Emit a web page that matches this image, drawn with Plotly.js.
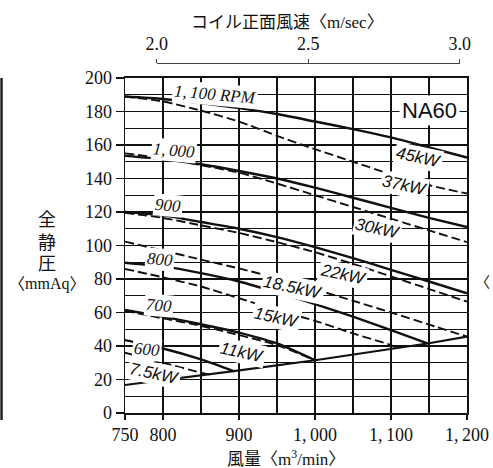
<!DOCTYPE html>
<html>
<head>
<meta charset="utf-8">
<script src="https://cdn.plot.ly/plotly-3.0.1.min.js"></script>
<style>html,body{margin:0;padding:0;background:#fff;}#chart{width:493px;height:468px;}</style>
</head>
<body>
<div id="chart"></div>
<script>
// ---- data ----
const flow = [750, 800, 850, 900, 950, 1000, 1050, 1100, 1150, 1200];
const rpm1100 = [189, 187.5, 185, 182, 178.5, 174, 169.5, 164.5, 158.5, 152.5];
const rpm1000 = [153.5, 151.5, 148.5, 144.5, 140, 134.5, 128.5, 122.5, 116.5, 111];
const rpm900 = [120, 118, 114, 110, 105, 99, 92.5, 85.5, 78.5, 71.5];
const rpm800Flow = [750, 800, 850, 900, 950, 1000, 1050, 1100, 1148];
const rpm800 = [89.7, 87.5, 83.5, 78.5, 72, 65, 57.5, 49.5, 41.5];
const rpm700Flow = [750, 800, 850, 900, 950, 1000];
const rpm700 = [61.5, 57.5, 53, 48, 41.5, 31.5];
const rpm600Flow = [750, 800, 850, 893];
const rpm600 = [43.5, 38.5, 32, 25];

const kw37 = [189, 186, 180.5, 174, 165.5, 157.5, 150, 142.5, 136, 131];
const kw30 = [155, 152, 148, 143.5, 137, 130, 123, 116, 109, 102];
const kw22 = [119.5, 116.5, 112, 107.5, 102, 96, 89, 81.5, 74, 66.5];
const kw185 = [102.3, 97, 91.6, 86.3, 80.5, 73.8, 67, 60, 52.8, 45.6];
const kw15Flow = [750, 800, 850, 900, 950, 1000, 1050, 1100, 1107];
const kw15 = [86, 81, 75.5, 68.5, 61.5, 55, 47.5, 40.5, 38.8];
const kw11Flow = [750, 800, 850, 900, 950, 1000];
const kw11 = [61, 56.5, 52, 46.5, 40.5, 31.5];
const kw75Flow = [750, 800, 850, 862];
const kw75 = [36, 30, 24.1, 22.9];

const limitFlow = [750, 862, 893, 1000, 1148, 1200];
const limitPressure = [16.7, 23, 25, 31.5, 41.5, 45.6];

const xTickVals = [750, 800, 900, 1000, 1100, 1200];
const xTickText = ['750', '800', '900', '1,\u2009000', '1,\u2009100', '1,\u2009200'];
const velocityTicks = [2.0, 2.5, 3.0];
const velocityText = ['2.0', '2.5', '3.0'];

const rpmLabels = [
  {text: '1,\u2009100 RPM', x: 868, y: 189.9},
  {text: '1,\u2009000', x: 814.5, y: 157},
  {text: '900', x: 806.6, y: 123.6},
  {text: '800', x: 796, y: 91.9},
  {text: '700', x: 794.7, y: 63.9},
  {text: '600', x: 779, y: 38.2}
];
const kwLabels = [
  {text: '45kW', x: 1136.8, y: 152.8},
  {text: '37kW', x: 1118.4, y: 136.1},
  {text: '30kW', x: 1081.6, y: 110.4},
  {text: '22kW', x: 1036.8, y: 82.4},
  {text: '18.5kW', x: 971, y: 75.2},
  {text: '15kW', x: 948.7, y: 57.3},
  {text: '11kW', x: 904, y: 36.4},
  {text: '7.5kW', x: 788, y: 23.3}
];

// ---- styling ----
const SERIF = "'Liberation Serif', 'Noto Sans CJK JP', serif";
const SANS = "'Liberation Sans', Arial, sans-serif";
const INK = '#111';
const GRID = '#111';

function solid(x, y) {
  return {x: x, y: y, type: 'scatter', mode: 'lines', hoverinfo: 'skip', showlegend: false,
    line: {color: INK, width: 2.4, shape: 'spline', smoothing: 0.6}};
}
function dashed(x, y) {
  return {x: x, y: y, type: 'scatter', mode: 'lines', hoverinfo: 'skip', showlegend: false,
    line: {color: INK, width: 1.9, dash: '9px,4px', shape: 'spline', smoothing: 0.6}};
}

const traces = [
  solid(flow, rpm1100), solid(flow, rpm1000), solid(flow, rpm900),
  solid(rpm800Flow, rpm800), solid(rpm700Flow, rpm700), solid(rpm600Flow, rpm600),
  dashed(flow, kw37), dashed(flow, kw30), dashed(flow, kw22), dashed(flow, kw185),
  dashed(kw15Flow, kw15), dashed(kw11Flow, kw11), dashed(kw75Flow, kw75),
  {x: limitFlow, y: limitPressure, type: 'scatter', mode: 'lines', hoverinfo: 'skip', showlegend: false,
    line: {color: INK, width: 2.2}},
  // carrier for the coil face velocity scale (draws nothing itself)
  {x: velocityTicks, y: [-1, -1, -1], xaxis: 'x2', yaxis: 'y2', type: 'scatter', mode: 'lines',
    hoverinfo: 'skip', showlegend: false, line: {color: 'rgba(0,0,0,0)', width: 0}}
];

const annotations = [];
rpmLabels.forEach(function (l) {
  annotations.push({x: l.x, y: l.y, xref: 'x', yref: 'y', text: l.text, showarrow: false,
    textangle: 5, bgcolor: '#fff', borderpad: 1, xanchor: 'center', yanchor: 'middle',
    font: {family: SERIF, size: 17, color: INK, style: 'italic'}});
});
kwLabels.forEach(function (l) {
  annotations.push({x: l.x, y: l.y, xref: 'x', yref: 'y', text: l.text, showarrow: false,
    textangle: 12, bgcolor: '#fff', borderpad: 1, xanchor: 'center', yanchor: 'middle',
    font: {family: SANS, size: 17, color: INK, style: 'italic'}});
});
annotations.push({x: 1150, y: 180.3, xref: 'x', yref: 'y', text: 'NA60', showarrow: false,
  bgcolor: '#fff', borderpad: 2, xanchor: 'center', yanchor: 'middle',
  font: {family: SANS, size: 22, color: INK}});
// top axis title
annotations.push({x: 0.4766, y: 1.118, xref: 'paper', yref: 'paper', text: 'コイル正面風速〈m/sec〉',
  showarrow: false, xanchor: 'center', yanchor: 'middle', font: {family: SERIF, size: 17, color: INK}});
// bottom axis title
annotations.push({x: 0.4708, y: -0.129, xref: 'paper', yref: 'paper', text: '風量〈m<sup>3</sup>/min〉',
  showarrow: false, xanchor: 'center', yanchor: 'middle', font: {family: SERIF, size: 17, color: INK}});
// vertical y title
const yTitle = [['全', 0.5544, 18], ['静', 0.4857, 18], ['圧', 0.4269, 18], ['〈mmAq〉', 0.371, 16]];
yTitle.forEach(function (t) {
  annotations.push({x: -0.228, y: t[1], xref: 'paper', yref: 'paper', text: t[0], showarrow: false,
    xanchor: 'center', yanchor: 'middle', font: {family: SERIF, size: t[2], color: INK}});
});
// fragment of the neighbouring chart at the right edge
annotations.push({x: 1.018, y: 0.3725, xref: 'paper', yref: 'paper', text: '〈', showarrow: false,
  xanchor: 'left', yanchor: 'middle', font: {family: SERIF, size: 15, color: INK}});

const layout = {
  width: 493, height: 468,
  margin: {l: 125, r: 26, t: 64, b: 55},
  paper_bgcolor: '#fff', plot_bgcolor: 'rgba(0,0,0,0)',
  showlegend: false,
  xaxis: {
    range: [750, 1200], domain: [0, 1], anchor: 'y',
    tickmode: 'array', tickvals: xTickVals, ticktext: xTickText,
    ticks: 'outside', ticklen: 5, tickwidth: 1.2, tickcolor: INK,
    showgrid: true, gridcolor: GRID, gridwidth: 1.2,
    minor: {tick0: 750, dtick: 50, showgrid: true, gridcolor: GRID, gridwidth: 1.2, ticks: ''},
    showline: true, linecolor: INK, linewidth: 1.5, mirror: true, zeroline: false,
    tickfont: {family: SERIF, size: 18, color: INK}
  },
  yaxis: {
    range: [0, 200], domain: [0, 0.9599], anchor: 'x',
    tick0: 0, dtick: 20, ticks: 'outside', ticklen: 8, tickwidth: 1.2, tickcolor: INK,
    showgrid: true, gridcolor: GRID, gridwidth: 1.2,
    minor: {tick0: 0, dtick: 10, showgrid: true, gridcolor: GRID, gridwidth: 1.2, ticks: ''},
    showline: true, linecolor: INK, linewidth: 1.5, mirror: true, zeroline: false,
    tickfont: {family: SERIF, size: 18, color: INK}
  },
  xaxis2: {
    range: [1.9995, 3.0005], domain: [0.0927, 0.9795],
    anchor: 'y2', side: 'top',
    tickmode: 'array', tickvals: velocityTicks, ticktext: velocityText,
    ticks: 'outside', ticklen: 4, tickwidth: 1, tickcolor: '#444',
    showline: true, linecolor: '#444', linewidth: 1,
    showgrid: false, zeroline: false, ticklabelstandoff: 2,
    tickfont: {family: SERIF, size: 18, color: INK}
  },
  yaxis2: {
    domain: [0.97, 1], range: [0, 1], anchor: 'x2', visible: false,
    showgrid: false, zeroline: false, showline: false, showticklabels: false
  },
  annotations: annotations,
  shapes: [
    {type: 'line', xref: 'paper', yref: 'paper', x0: -0.361, x1: -0.361, y0: 0.96, y1: -0.02,
      line: {color: '#222', width: 2.5}}
  ]
};

Plotly.newPlot('chart', traces, layout, {displayModeBar: false, staticPlot: true});
</script>
</body>
</html>
